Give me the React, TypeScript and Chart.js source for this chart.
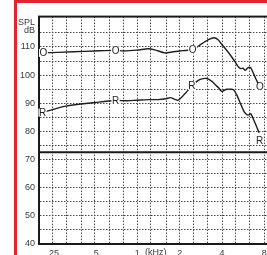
import React, { useEffect, useRef } from 'react';
import { Chart, registerables } from 'chart.js';

Chart.register(...registerables);

// Frequency axis (kHz)
const gridFreqs = [0.2, 0.25, 0.315, 0.4, 0.5, 0.63, 0.8, 1, 1.25, 1.6, 2, 2.5, 3.15, 4, 5, 6.3, 8, 10];
const freqLabelValues = [0.25, 0.5, 1, 2, 4, 8];
const freqLabelTexts = ['.25', '.5', '1', '2', '4', '8'];
const unitLabel = '(kHz)';
const unitLabelFreq = 1.35;

// Level axis (dB SPL)
const dbGridTicks = [40, 45, 50, 55, 60, 65, 70, 75, 80, 85, 90, 95, 100, 105, 110, 115];
const dbLabelValues = [40, 50, 60, 70, 80, 90, 100, 110];
const axisTitleLines = ['SPL', 'dB'];
const axisTitleLevels = [118.7, 115.8];
const dividerLevel = 72.6;

// Curve "O"
const oFreq = [0.215, 0.35, 0.5, 0.7, 0.8, 1.0, 1.2, 1.35, 1.57, 1.8, 2.1, 2.47, 2.88, 3.23, 3.5, 3.75, 4.03, 4.5, 4.96, 5.24, 5.47, 5.65, 5.84, 6.07, 6.3, 6.5, 6.94, 7.43];
const oLevel = [107.9, 108.3, 108.6, 108.8, 108.6, 108.9, 109.4, 108.9, 107.9, 108.3, 108.7, 109.1, 111.2, 112.7, 113.3, 112.6, 110.6, 107.7, 104.7, 102.9, 102.3, 102.5, 101.7, 102.5, 102.8, 102.0, 98.8, 95.8];
const oMarkFreq = [0.215, 0.7, 2.47, 7.43];
const oMarkLevel = [107.9, 108.8, 109.1, 95.8];

// Curve "R"
const rFreq = [0.212, 0.31, 0.506, 0.7, 0.85, 1.0, 1.2, 1.4, 1.6, 1.72, 1.85, 1.95, 2.18, 2.44, 2.65, 2.8, 3.12, 3.39, 3.6, 3.78, 3.99, 4.15, 4.33, 4.6, 4.83, 5.09, 5.4, 5.68, 5.9, 6.16, 6.4, 6.87, 7.34];
const rLevel = [86.7, 89.0, 90.3, 91.0, 90.9, 91.1, 91.3, 91.3, 91.6, 92.0, 91.4, 91.1, 93.4, 96.2, 97.8, 98.5, 98.8, 97.8, 96.5, 95.5, 94.2, 94.6, 95.0, 95.0, 94.8, 93.0, 90.0, 87.5, 86.3, 85.8, 86.3, 83.0, 79.5];
const rMarkFreq = [0.212, 0.7, 2.44, 7.4];
const rMarkLevel = [86.7, 91.0, 96.2, 76.8];

const FONT = '"Liberation Sans", Arial, sans-serif';
const TEXT_COLOR = '#3a3a3a';

const decorPlugin = {
  id: 'decor',
  afterDatasetsDraw(chart: any) {
    const { ctx, chartArea, scales } = chart;
    const xs = scales.x;
    const ys = scales.y;
    ctx.save();
    // divider line
    const yd = ys.getPixelForValue(dividerLevel);
    ctx.strokeStyle = '#1a1a1a';
    ctx.lineWidth = 2;
    ctx.beginPath();
    ctx.moveTo(chartArea.left, yd);
    ctx.lineTo(chartArea.right, yd);
    ctx.stroke();
    // frame
    ctx.strokeRect(chartArea.left, chartArea.top, chartArea.right - chartArea.left, chartArea.bottom - chartArea.top);

    // curve markers
    ctx.font = '10px ' + FONT;
    ctx.textAlign = 'center';
    ctx.textBaseline = 'middle';
    const drawMark = (t: string, f: number, v: number) => {
      const x = xs.getPixelForValue(f);
      const y = ys.getPixelForValue(v);
      const w = ctx.measureText(t).width;
      ctx.fillStyle = '#ffffff';
      ctx.fillRect(x - w / 2 - 0.5, y - 4, w + 1, 8);
      ctx.fillStyle = '#222';
      ctx.fillText(t, x, y + 0.5);
    };
    oMarkFreq.forEach((f, i) => drawMark('O', f, oMarkLevel[i]));
    rMarkFreq.forEach((f, i) => drawMark('R', f, rMarkLevel[i]));

    // axis title
    ctx.fillStyle = TEXT_COLOR;
    ctx.textAlign = 'right';
    ctx.font = '9px ' + FONT;
    axisTitleLines.forEach((t, i) => {
      ctx.fillText(t, chartArea.left - 4, ys.getPixelForValue(axisTitleLevels[i]));
    });
    // unit label
    ctx.textAlign = 'center';
    ctx.textBaseline = 'top';
    ctx.fillText(unitLabel, xs.getPixelForValue(unitLabelFreq), chartArea.bottom + 4);
    ctx.restore();
  },
};

export default function App() {
  const ref = useRef<HTMLCanvasElement | null>(null);

  useEffect(() => {
    if (!ref.current) return;
    const chart = new Chart(ref.current, {
      type: 'line',
      data: {
        datasets: [
          {
            label: 'O',
            data: oFreq.map((f, i) => ({ x: f, y: oLevel[i] })),
            borderColor: '#1e1e1e',
            borderWidth: 1.4,
            pointRadius: 0,
            tension: 0.3,
          },
          {
            label: 'R',
            data: rFreq.map((f, i) => ({ x: f, y: rLevel[i] })),
            borderColor: '#1e1e1e',
            borderWidth: 1.4,
            pointRadius: 0,
            tension: 0.3,
          },
        ],
      },
      options: {
        responsive: false,
        animation: false,
        devicePixelRatio: 1,
        layout: { padding: { top: 16.6, right: 2, left: 0, bottom: 0 } },
        plugins: { legend: { display: false }, tooltip: { enabled: false } },
        scales: {
          x: {
            type: 'logarithmic',
            min: 0.2,
            max: 10,
            afterBuildTicks: (s: any) => {
              s.ticks = gridFreqs.map((v) => ({ value: v }));
            },
            afterFit: (s: any) => {
              s.height = 26;
            },
            ticks: {
              autoSkip: false,
              maxRotation: 0,
              padding: 4,
              color: TEXT_COLOR,
              font: { family: FONT, size: 9 },
              callback: (v: any) => {
                const idx = freqLabelValues.findIndex((f) => Math.abs(f - Number(v)) < 1e-6);
                return idx >= 0 ? freqLabelTexts[idx] : '';
              },
            },
            grid: { color: '#4a4a4a', lineWidth: 1, drawTicks: false },
            border: { color: '#1a1a1a', width: 2, dash: [1.5, 1.5] },
          },
          y: {
            min: 40,
            max: 120.8,
            afterBuildTicks: (s: any) => {
              s.ticks = dbGridTicks.map((v) => ({ value: v }));
            },
            afterFit: (s: any) => {
              s.width = 39;
            },
            ticks: {
              padding: 4,
              color: TEXT_COLOR,
              font: { family: FONT, size: 9 },
              callback: (v: any) => (dbLabelValues.includes(Number(v)) ? String(v) : ''),
            },
            grid: { color: '#4a4a4a', lineWidth: 1, drawTicks: false },
            border: { color: '#1a1a1a', width: 2, dash: [1.5, 1.5] },
          },
        },
      },
      plugins: [decorPlugin],
    });
    return () => chart.destroy();
  }, []);

  return (
    <div style={{ position: 'fixed', left: 0, top: 0, width: 267, height: 255, overflow: 'hidden', background: '#fff' }}>
      <canvas ref={ref} width={282} height={270} style={{ position: 'absolute', left: 0, top: 0 }} />
      <div style={{ position: 'absolute', left: 14, top: 0, width: 3, height: 255, background: '#e1242f' }} />
      <div style={{ position: 'absolute', left: 14, top: 0, right: 0, height: 3, background: '#e1242f' }} />
    </div>
  );
}
